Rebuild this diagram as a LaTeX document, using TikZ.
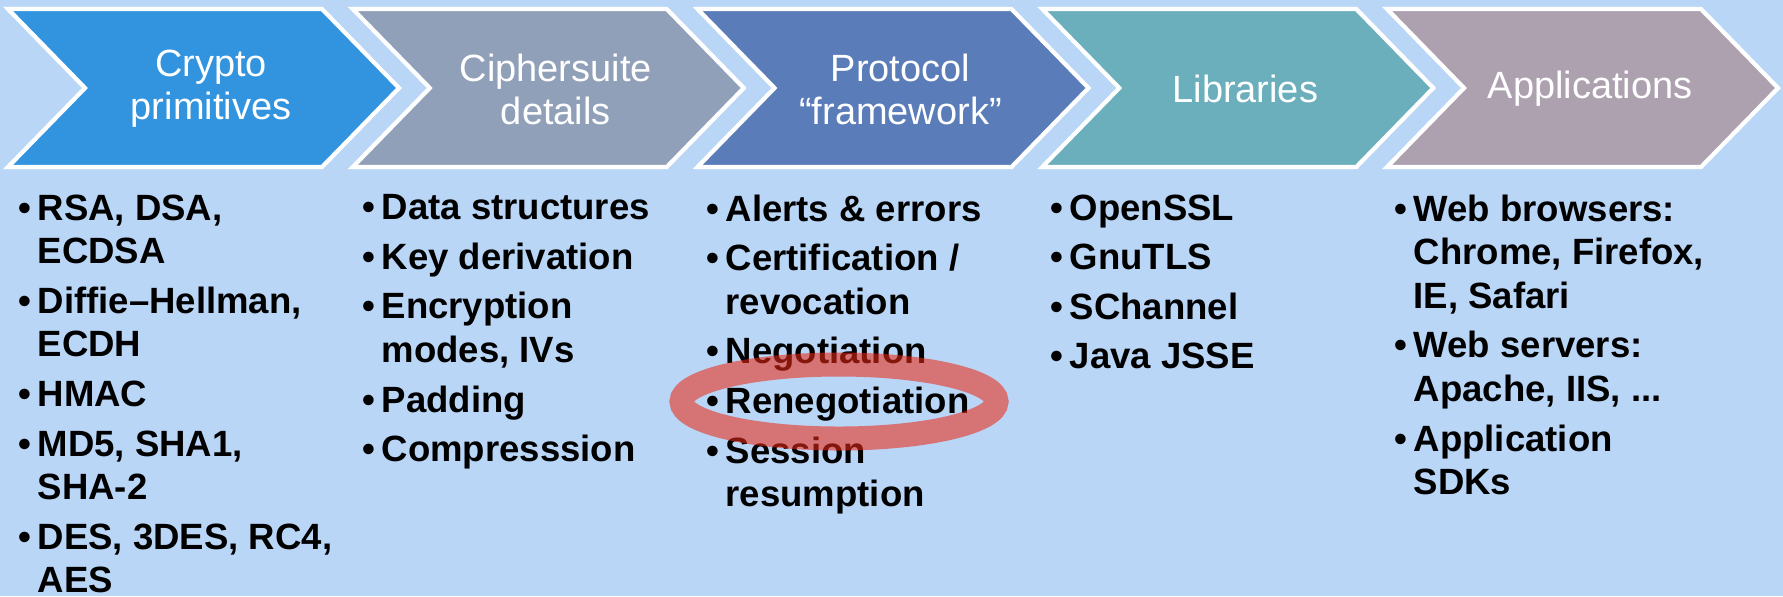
\documentclass[tikz,border=0pt]{standalone}
\usepackage{fontspec}
\setmainfont{Liberation Sans}
\usetikzlibrary{positioning}

\definecolor{bgblue}{RGB}{185,214,247}
\definecolor{cryptoblue}{RGB}{50,148,222}
\definecolor{suitegray}{RGB}{145,160,185}
\definecolor{protoblue}{RGB}{90,124,185}
\definecolor{libteal}{RGB}{108,175,188}
\definecolor{appmauve}{RGB}{173,161,176}
\definecolor{ringred}{RGB}{235,40,20}

\newcommand\bul{\makebox[1.9mm][l]{\textbullet}}
\newcommand\ind{\hspace*{1.9mm}}
\newcommand\gap{\\[1.7pt]}

\tikzset{
  chevron/.style = {draw=white, line width=1.2pt},
  title/.style   = {text=white, align=center, inner sep=0pt,
                    font=\fontsize{10.8}{12.2}\selectfont},
  items/.style   = {anchor=north west, align=left, inner sep=0pt,
                    font=\bfseries\fontsize{10.4}{12.4}\selectfont},
  ring/.style    = {draw=ringred, line width=2.4mm, draw opacity=0.57}
}

\begin{document}
\begin{tikzpicture}[x=0.1mm, y=-0.1mm]
\fill[bgblue] (0,0) rectangle (1783,596);
\useasboundingbox (0,0) rectangle (1783,596);

% the five chevrons with their titles
\foreach [count=\i from 0] \col/\name/\txt in {
    cryptoblue/c1/{Crypto\\primitives},
    suitegray/c2/{Ciphersuite\\details},
    protoblue/c3/{Protocol\\“framework”},
    libteal/c4/{Libraries},
    appmauve/c5/{Applications}}
{
  \pgfmathsetmacro\x{8+344.75*\i}
  \draw[chevron, fill=\col] (\x,9) -- ++(314,0) -- ++(77,79) -- ++(-77,79)
    -- ++(-314,0) -- ++(77,-79) -- cycle;
  \node[title] (\name) at (\x+203,89) {\txt};
}

% the lists below each chevron
\node[items] (l1) at (18,194) {\bul RSA, DSA,\\\ind ECDSA\gap
  \bul Diffie–Hellman,\\\ind ECDH\gap
  \bul HMAC\gap
  \bul MD5, SHA1,\\\ind SHA-2\gap
  \bul DES, 3DES, RC4,\\\ind AES};
\node[items] (l2) at (362,194) {\bul Data structures\gap
  \bul Key derivation\gap
  \bul Encryption\\\ind modes, IVs\gap
  \bul Padding\gap
  \bul Compresssion};
\node[items] (l3) at (706,194) {\bul Alerts \& errors\gap
  \bul Certification /\\\ind revocation\gap
  \bul Negotiation\gap
  \bul Renegotiation\gap
  \bul Session\\\ind resumption};
\node[items] (l4) at (1050,194) {\bul OpenSSL\gap
  \bul GnuTLS\gap
  \bul SChannel\gap
  \bul Java JSSE};
\node[items] (l5) at (1394,194) {\bul Web browsers:\\\ind Chrome, Firefox,\\\ind IE, Safari\gap
  \bul Web servers:\\\ind Apache, IIS, ...\gap
  \bul Application\\\ind SDKs};

% highlight round the renegotiation item
\draw[ring] (839,401.5) ellipse [x radius=157.5, y radius=37];
\end{tikzpicture}
\end{document}
